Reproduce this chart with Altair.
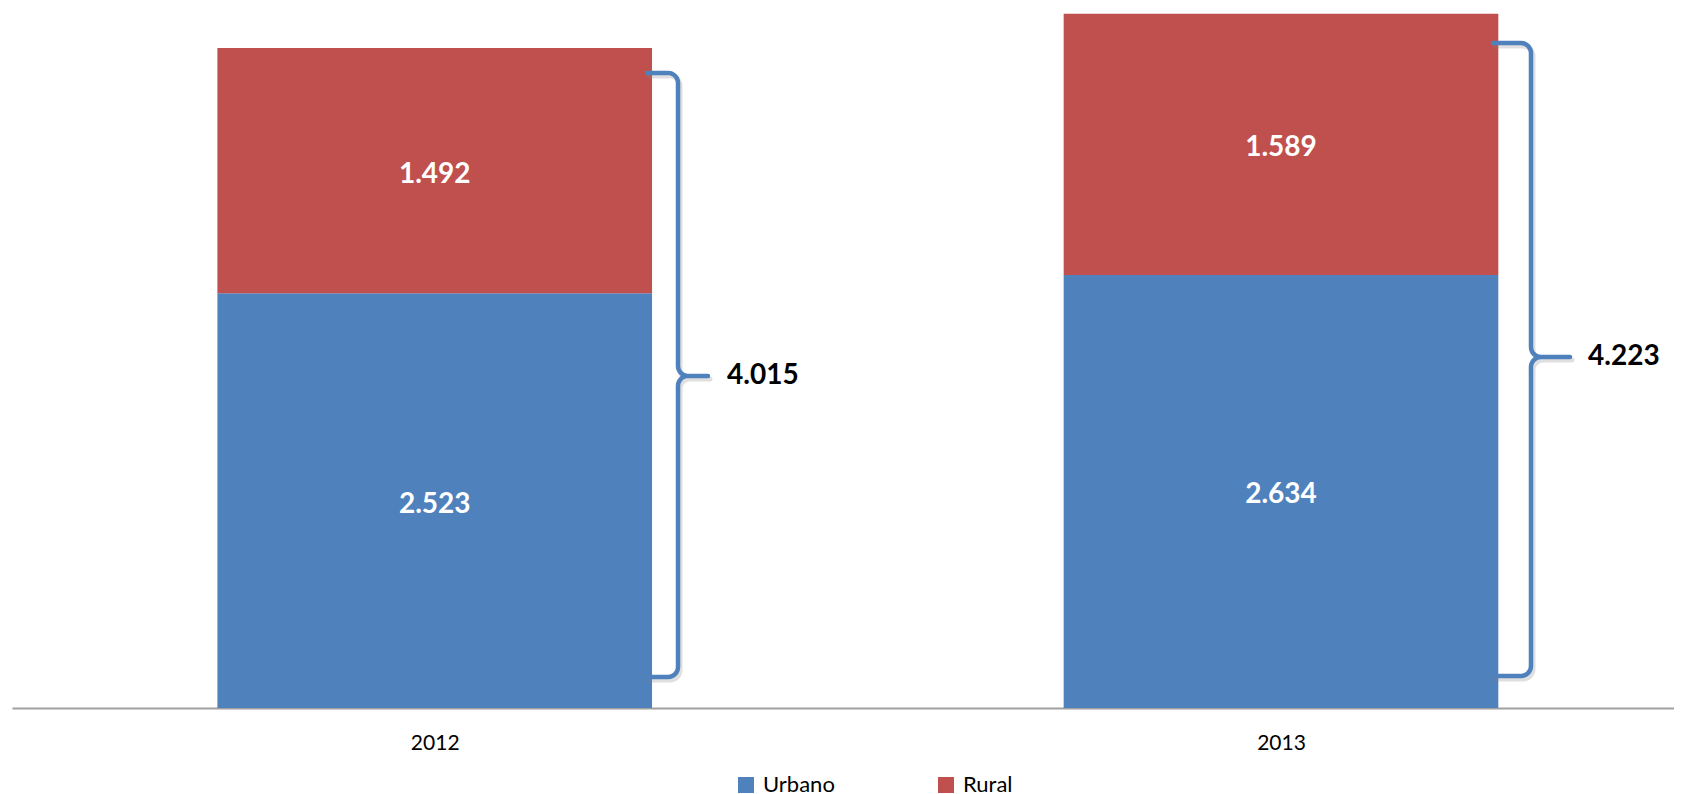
import math
import altair as alt
import pandas as pd

# ---------------- data ----------------
years = ["2012", "2013"]
series = ["Urbano", "Rural"]
urbano = [2523, 2634]
rural = [1492, 1589]
totals = [4015, 4223]

# brace extents (value units)
brace_lo = [189, 195]
brace_hi = [3863, 4045]
brace_tip = [2020, 2135]

# ---------------- layout / style ----------------
BLUE = "#4F81BD"
RED = "#C0504D"
FONT = "Lato"
W, H = 1662, 700
Y_MAX = 4258
X_MIN, X_MAX = -0.4995, 1.4644
HALF = 0.2568                      # half bar width (in category steps)
brace_in = [0.2509, 0.2505]        # x offset of brace ends from bar centre
brace_spine = [0.2875, 0.2954]     # x offset of brace spine
brace_point = [0.3229, 0.3415]     # x offset of brace tip
total_x = [0.3454, 0.3628]         # x offset of total label

px_x = W / (X_MAX - X_MIN)
px_y = H / Y_MAX
R = 10
rx, ry = R / px_x, R / px_y


def fmt(v):
    return f"{v:,}".replace(",", ".")


rows = []
for i, yr in enumerate(years):
    for s, vals in (("Urbano", urbano), ("Rural", rural)):
        rows.append(dict(year=yr, idx=i, series=s, value=vals[i],
                         label=fmt(vals[i]), ord=series.index(s)))
df = pd.DataFrame(rows)

# brace path points
brows = []
for i, yr in enumerate(years):
    c = i
    xe = c + brace_in[i]
    xs = c + brace_spine[i]
    xt = c + brace_point[i]
    lo, hi, tp = brace_lo[i], brace_hi[i], brace_tip[i]
    pts = []
    pts.append((xe, lo))

    def arc(cx, cy, a0, a1, n=8):
        out = []
        for k in range(n + 1):
            a = math.radians(a0 + (a1 - a0) * k / n)
            out.append((cx + rx * math.cos(a), cy + ry * math.sin(a)))
        return out

    pts += arc(xs - rx, lo + ry, -90, 0)
    pts += arc(xs + rx, tp - ry, 180, 90)
    pts.append((xt, tp))
    pts += arc(xs + rx, tp + ry, 270, 180)
    pts += arc(xs - rx, hi - ry, 0, 90)
    pts.append((xe, hi))
    for k, (px, py) in enumerate(pts):
        brows.append(dict(year=yr, k=k, bx=px, by=py))
bdf = pd.DataFrame(brows)

tdf = pd.DataFrame(dict(year=years,
                        tx=[i + total_x[i] for i in range(len(years))],
                        ty=brace_tip,
                        label=[fmt(t) for t in totals]))

xscale = alt.Scale(domain=[X_MIN, X_MAX], nice=False, zero=False)
yscale = alt.Scale(domain=[0, Y_MAX], nice=False)

label_expr = "[" + ",".join(f"'{y}'" for y in years) + "][datum.value]"

base = alt.Chart(df).transform_stack(
    stack="value", groupby=["year"], as_=["v0", "v1"],
    sort=[alt.SortField("ord", order="ascending")]
).transform_calculate(
    xa=f"datum.idx - {HALF}", xb=f"datum.idx + {HALF}",
    mid="(datum.v0 + datum.v1) / 2"
)

bars = base.mark_bar().encode(
    x=alt.X("xa:Q", scale=xscale, title=None,
            axis=alt.Axis(values=list(range(len(years))), labelExpr=label_expr,
                          ticks=False, tickSize=0, grid=False, domain=True,
                          domainColor="#A0A0A0", domainWidth=2,
                          labelFont=FONT, labelFontSize=21, labelColor="black",
                          labelPadding=24)),
    x2="xb:Q",
    y=alt.Y("v0:Q", scale=yscale, axis=None),
    y2="v1:Q",
    color=alt.Color("series:N", scale=alt.Scale(domain=series, range=[BLUE, RED]),
                    legend=alt.Legend(orient="none", legendX=723, legendY=766,
                                      direction="horizontal", title=None,
                                      symbolType="square", symbolSize=256,
                                      symbolStrokeWidth=0, labelFont=FONT,
                                      labelFontSize=22, labelColor="black",
                                      columnPadding=100, labelOffset=6)),
)

vals = base.mark_text(font=FONT, fontSize=28, fontWeight="bold", color="white",
                      baseline="middle", dy=4).encode(
    x=alt.X("idx:Q", scale=xscale),
    y=alt.Y("mid:Q", scale=yscale),
    text="label:N",
)

shadow = alt.Chart(bdf).mark_line(color="#7f7f7f", opacity=0.25, strokeWidth=5,
                                  strokeCap="round", strokeJoin="round",
                                  xOffset=2, yOffset=3).encode(
    x=alt.X("bx:Q", scale=xscale), y=alt.Y("by:Q", scale=yscale),
    detail="year:N", order="k:Q")

brace = alt.Chart(bdf).mark_line(color=BLUE, strokeWidth=4.5, strokeCap="round",
                                 strokeJoin="round").encode(
    x=alt.X("bx:Q", scale=xscale), y=alt.Y("by:Q", scale=yscale),
    detail="year:N", order="k:Q")

tot = alt.Chart(tdf).mark_text(font=FONT, fontSize=28, fontWeight="bold",
                               color="black", align="left",
                               baseline="middle").encode(
    x=alt.X("tx:Q", scale=xscale), y=alt.Y("ty:Q", scale=yscale),
    text="label:N")

chart = alt.layer(bars, vals, shadow, brace, tot).properties(
    width=W, height=H,
    padding={"left": 4, "top": 0, "right": 0, "bottom": 0},
    background="white",
).configure_view(stroke=None)

chart.save("out.html", embed_options={"renderer": "svg", "actions": False})
